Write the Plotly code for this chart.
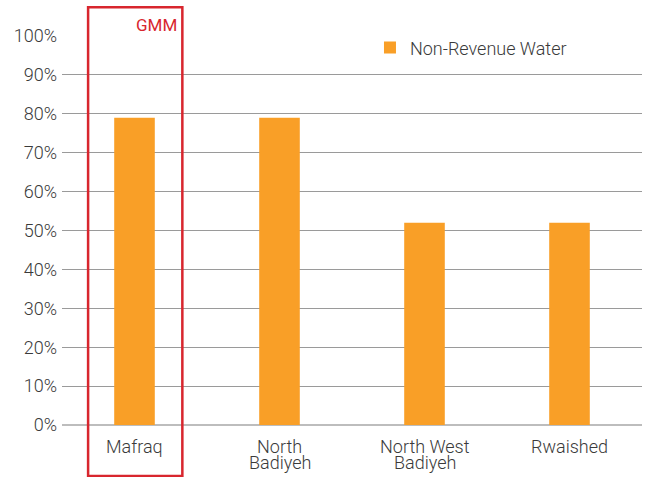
import plotly.graph_objects as go

# Non-revenue water share by service area
categories = ["Mafraq", "North\nBadiyeh", "North West\nBadiyeh", "Rwaished"]
nrw_share = [79, 79, 52, 52]
y_ticks = list(range(0, 101, 10))
y_tick_labels = [f"{v}%" for v in y_ticks]

ORANGE = "#f99f27"
RED = "#d8262e"
TEXT = "#3a3a3a"
GRID = "#9a9a9a"
ZERO = "#bdbdbd"
FONT = dict(family="Roboto", size=18, color=TEXT, weight=300)

fig = go.Figure()
fig.add_trace(go.Bar(
    x=categories,
    y=nrw_share,
    name="Non-Revenue Water",
    marker=dict(color=ORANGE, line=dict(width=0)),
))

# Category labels, one annotation per line for tight line spacing
for cat in categories:
    for j, line in enumerate(cat.split("\n")):
        fig.add_annotation(
            x=cat, y=0, xref="x", yref="y",
            text=line, showarrow=False,
            yanchor="middle", xanchor="center",
            yshift=-(21 + j * 16.5),
            font=FONT,
        )

# Highlight box around the GMM area
fig.add_shape(
    type="rect", xref="x", yref="paper",
    x0=-0.32, x1=0.33, y0=-0.131, y1=1.074,
    line=dict(color=RED, width=2.5),
    fillcolor="rgba(0,0,0,0)",
)
fig.add_annotation(
    x=0.31, y=1.028, xref="x", yref="paper",
    text="GMM", showarrow=False,
    xanchor="right", yanchor="middle",
    font=dict(family="Roboto", size=17, color=RED, weight=400),
)

fig.update_layout(
    width=645, height=477,
    margin=dict(l=62, r=3, t=36, b=52),
    paper_bgcolor="white",
    plot_bgcolor="white",
    font=FONT,
    bargap=0.72,
    showlegend=True,
    legend=dict(
        x=0.531, y=1.017, xanchor="left", yanchor="top",
        bgcolor="rgba(0,0,0,0)",
        font=FONT,
    ),
)
fig.update_xaxes(
    type="category",
    showticklabels=False,
    showgrid=False,
    showline=False,
    ticks="",
    range=[-0.5, len(categories) - 0.5],
)
fig.update_yaxes(
    range=[0, 100],
    tickvals=y_ticks,
    ticktext=y_tick_labels,
    showgrid=True,
    gridcolor=GRID,
    gridwidth=1,
    zeroline=True,
    zerolinecolor=ZERO,
    zerolinewidth=2,
    showline=False,
    ticks="",
    ticklabelstandoff=4,
    tickfont=FONT,
)

fig.write_html("out.html")
